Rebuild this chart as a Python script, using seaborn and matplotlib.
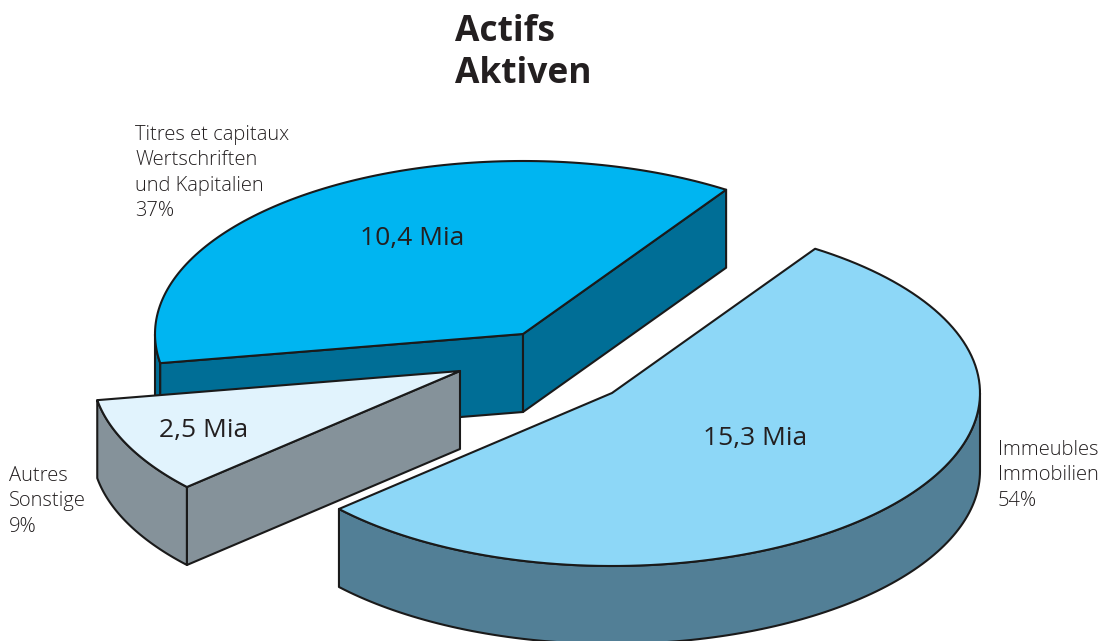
"""Exploded pseudo-3D pie of assets, built from value shares on elliptical slices."""

import numpy as np
import matplotlib
matplotlib.use("Agg")
import matplotlib.pyplot as plt
import seaborn as sns

# data
categories = ["Immeubles\nImmobilien", "Autres\nSonstige", "Titres et capitaux\nWertschriften\nund Kapitalien"]
percents = [54, 9, 37]
amounts = ["15,3 Mia", "2,5 Mia", "10,4 Mia"]
title_lines = ["Actifs", "Aktiven"]

# layout (pixels of the 1101x641 figure)
START_ANGLE = 56.5
RX, RY = 368, 173
DEPTH = 78
centers = [(612, 393), (460, 371), (523, 334)]
top_colors = ["#8DD7F7", "#E1F3FD", "#00B5F1"]
side_colors = ["#527F96", "#85929A", "#006E96"]
amount_pos = [(755, 438), (204, 430), (412, 238)]
label_pos = [(998, 440), (9, 466), (135, 125)]
title_baselines = [41, 83]
draw_order = [2, 0, 1]
EDGE = "#1a1a1a"

sns.set_theme(style="white")
plt.rcParams["font.family"] = ["Open Sans", "DejaVu Sans"]


def rim(center, a0, a1, n=120):
    """Points along the ellipse from angle a0 to a1 (degrees), y pointing down."""
    t = np.radians(np.linspace(a0, a1, n))
    return np.column_stack([center[0] + RX * np.cos(t), center[1] - RY * np.sin(t)])


def draw_slice(ax, center, a0, a1, top, side):
    """a0 > a1: the slice runs clockwise on screen."""
    down = np.array([0, DEPTH])
    apex = np.array(center, dtype=float)
    arc = rim(center, a0, a1)

    # outer wall, only where the rim faces the viewer
    t = np.linspace(a0, a1, 720)
    front = t[np.sin(np.radians(t)) <= 0]
    if len(front):
        pts = rim(center, front[0], front[-1])
        wall = np.vstack([pts, pts[::-1] + down])
        ax.fill(wall[:, 0], wall[:, 1], fc=side, ec=EDGE, lw=1.5, joinstyle="round")

    # radial walls, only those whose outward normal points down the screen
    first_visible = arc[0][0] < apex[0]
    last_visible = arc[-1][0] > apex[0]
    for end, visible in ((arc[0], first_visible), (arc[-1], last_visible)):
        if visible:
            wall = np.array([apex, end, end + down, apex + down])
            ax.fill(wall[:, 0], wall[:, 1], fc=side, ec=EDGE, lw=1.5, joinstyle="round")

    face = np.vstack([apex, arc])
    ax.fill(face[:, 0], face[:, 1], fc=top, ec=EDGE, lw=1.5, joinstyle="round")


fig = plt.figure(figsize=(11.01, 6.41), dpi=100)
ax = fig.add_axes([0, 0, 1, 1])
ax.set_xlim(0, 1101)
ax.set_ylim(641, 0)
ax.axis("off")

sweeps = np.array(percents) / sum(percents) * 360
ends = START_ANGLE - np.cumsum(sweeps)
starts = ends + sweeps

for i in draw_order:
    draw_slice(ax, centers[i], starts[i], ends[i], top_colors[i], side_colors[i])

for i in range(len(categories)):
    ax.text(*amount_pos[i], amounts[i], fontsize=19, color="#231f20", ha="center", va="center")
    ax.text(*label_pos[i], f"{categories[i]}\n{percents[i]}%", fontsize=14.5, color="#231f20",
            ha="left", va="top", linespacing=1.35, fontweight="light")

for line, base in zip(title_lines, title_baselines):
    ax.text(455, base, line, fontsize=25.5, fontweight="bold", color="#231f20",
            ha="left", va="baseline")

fig.savefig("out.png", dpi=100)
plt.close(fig)
